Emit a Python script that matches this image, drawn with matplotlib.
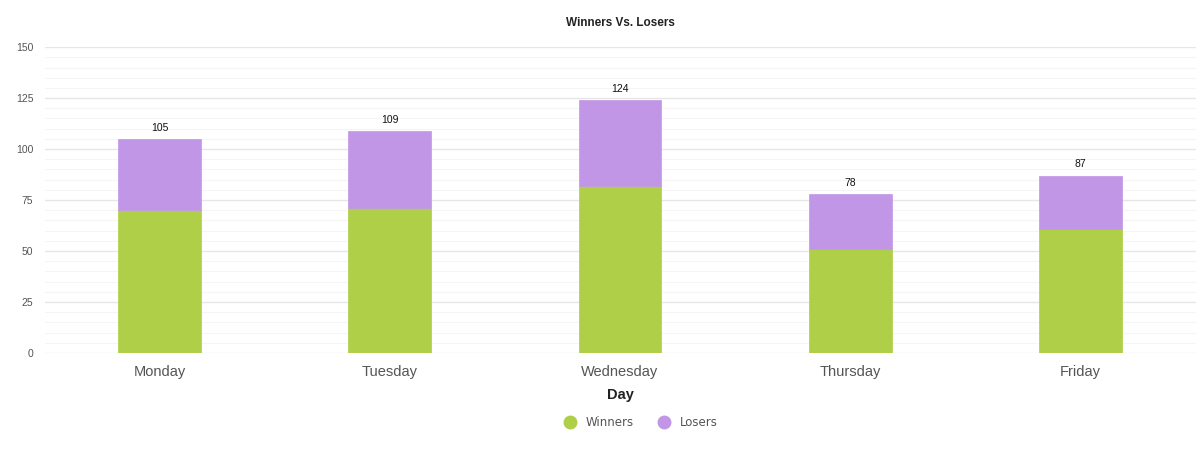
import numpy as np
import matplotlib.pyplot as plt
from matplotlib.lines import Line2D

# data
days    = ["Monday", "Tuesday", "Wednesday", "Thursday", "Friday"]
winners = [70, 71, 82, 51, 61]
losers  = [35, 38, 42, 27, 26]
totals  = [105, 109, 124, 78, 87]

green  = "#aecf47"
purple = "#c196e6"

plt.rcParams['font.family'] = ['Liberation Sans', 'DejaVu Sans']

fig = plt.figure(figsize=(12.04, 4.49), dpi=100)
ax = fig.add_axes([0.037, 0.214, 0.956, 0.681])

x = np.arange(len(days))
ax.bar(x, winners, width=0.36, color=green, edgecolor=green, linewidth=0.5, zorder=3)
ax.bar(x, losers, width=0.36, bottom=winners, color=purple, edgecolor=purple, linewidth=0.5, zorder=3)

for xi, t in zip(x, totals):
    ax.text(xi, t + 3, str(t), ha="center", va="bottom", fontsize=7.5, color="#111111")

ax.set_xlim(-0.5, len(days) - 0.5)
ax.set_ylim(0, 150)
ax.set_yticks(np.arange(0, 151, 25))
ax.set_yticks(np.arange(0, 151, 5), minor=True)
ax.grid(True, axis="y", which="major", color="#e6e6e6", linewidth=1, zorder=0)
ax.grid(True, axis="y", which="minor", color="#f5f5f5", linewidth=0.8, zorder=0)
ax.set_xticks(x)
ax.set_xticklabels(days, fontsize=10.5, color="#555555")
ax.tick_params(axis="y", which="both", labelsize=7.5, labelcolor="#555555", length=0, pad=8)
ax.tick_params(axis="x", which="both", length=0, pad=9)
for s in ax.spines.values():
    s.set_visible(False)

ax.set_xlabel("Day", fontsize=10.5, fontweight="bold", color="#222222", labelpad=6)
ax.set_title("Winners Vs. Losers", fontsize=8.5, fontweight="bold", color="#222222", pad=15)

handles = [Line2D([], [], marker="o", linestyle="", markersize=9, color=green),
           Line2D([], [], marker="o", linestyle="", markersize=9, color=purple)]
leg = fig.legend(handles, ["Winners", "Losers"], loc="center", bbox_to_anchor=(0.530, 0.058),
                 ncol=2, frameon=False, fontsize=9, handletextpad=0.3, columnspacing=1.6,
                 prop={'family': ['DejaVu Sans'], 'size': 8.5})
for t in leg.get_texts():
    t.set_color("#555555")

fig.savefig("out.png", dpi=100)
